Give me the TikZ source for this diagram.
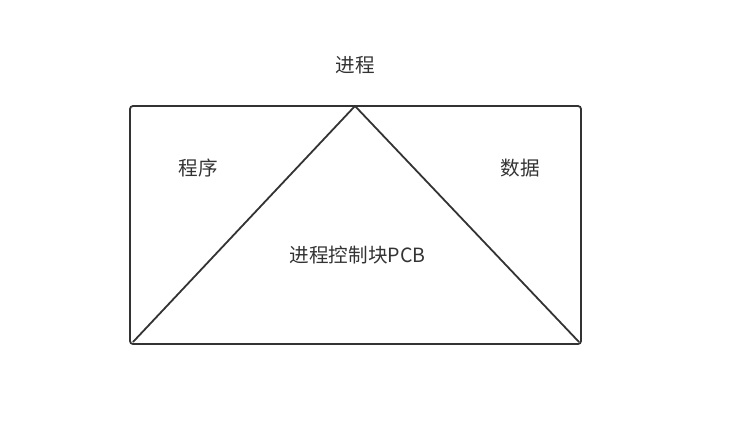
\documentclass[tikz,border=0pt]{standalone}
\usepackage{fontspec}
\setmainfont{Noto Sans CJK SC}
\definecolor{linec}{HTML}{333333}
\tikzset{
  lbl/.style={text=linec, font=\fontsize{19.6}{22}\selectfont, inner sep=0pt},
  frame/.style={draw=linec, line width=1.8pt, rounded corners=3pt},
  edge/.style={draw=linec, line width=1.8pt}
}
\begin{document}
\begin{tikzpicture}[x=1pt,y=-1pt]
\useasboundingbox (0,0) rectangle (736,424);
\draw[frame] (130,106) rectangle (581,344);
\coordinate (apex) at (355,106);
\coordinate (bl) at (133,342);
\coordinate (br) at (579,342);
\draw[edge, line join=round] (bl) -- (apex) -- (br);
\node[lbl] (title) at (355,65) {进程};
\node[lbl] (prog) at (198,168) {程序};
\node[lbl] (data) at (520,168) {数据};
\node[lbl] (pcb) at (357.5,255) {进程控制块PCB};
\end{tikzpicture}
\end{document}
